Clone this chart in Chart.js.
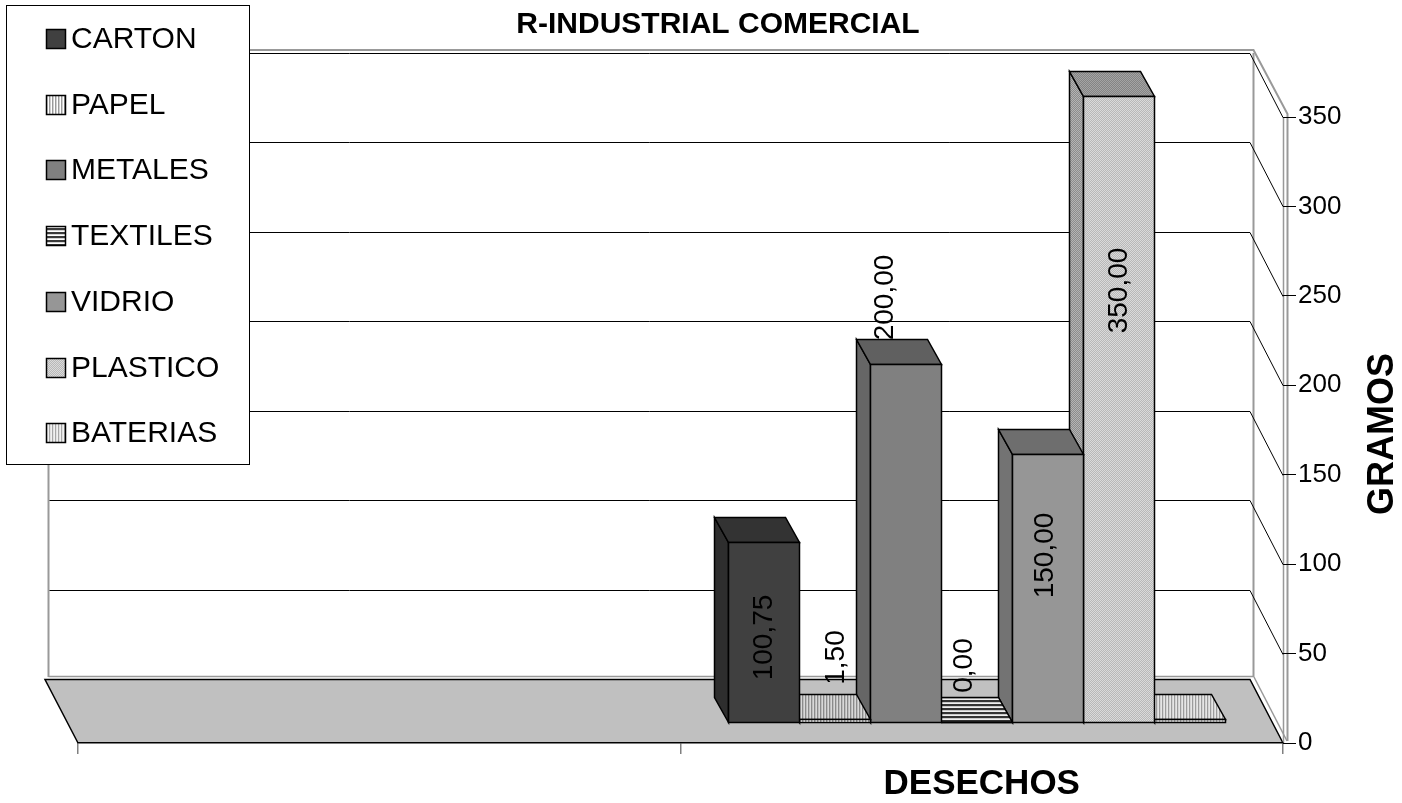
<!DOCTYPE html>
<html>
<head>
<meta charset="utf-8">
<script src="https://cdn.jsdelivr.net/npm/chart.js@4.4.0/dist/chart.umd.min.js"></script>
<style>
  html, body { margin: 0; padding: 0; background: #fff; }
  #wrap { width: 1402px; height: 803px; }
</style>
</head>
<body>
<div id="wrap"><canvas id="chart" width="1402" height="803"></canvas></div>
<script>
// data
const categories = ['', 'DESECHOS']
const seriesNames = ['CARTON', 'PAPEL', 'METALES', 'TEXTILES', 'VIDRIO', 'PLASTICO', 'BATERIAS']
const seriesValues = [100.75, 1.5, 200, 0, 150, 350, 1.5]
const valueLabels = ['100,75', '1,50', '200,00', '0,00', '150,00', '350,00', '']
const yTicks = [0, 50, 100, 150, 200, 250, 300, 350]

const FONT = "'Liberation Sans', Arial, sans-serif"
const depth = { dx: -33, dy: -64 }      // back wall offset
const barDepth = { dx: -14, dy: -25 }   // bar thickness
const barShift = { dx: -5, dy: -21 }    // bars stand in the middle of the floor

const canvas = document.getElementById('chart')
const ctx = canvas.getContext('2d')

function tile(w, h, paint) {
  const c = document.createElement('canvas')
  c.width = w; c.height = h
  paint(c.getContext('2d'))
  return ctx.createPattern(c, 'repeat')
}
function vstripe(cols) {
  return tile(cols.length, 1, g => cols.forEach((c, i) => { g.fillStyle = c; g.fillRect(i, 0, 1, 1) }))
}
function hstripe(cols) {
  return tile(1, cols.length, g => cols.forEach((c, i) => { g.fillStyle = c; g.fillRect(0, i, 1, 1) }))
}
function dots(a, b) {
  return tile(2, 2, g => {
    g.fillStyle = a; g.fillRect(0, 0, 2, 2)
    g.fillStyle = b; g.fillRect(1, 0, 1, 1); g.fillRect(0, 1, 1, 1)
  })
}

const faces = [
  { front: '#404040', top: '#333333', side: '#2e2e2e' },
  { front: vstripe(['#ffffff', '#9a9a9a', '#d0d0d0']), top: vstripe(['#d8d8d8', '#8a8a8a', '#bdbdbd']), side: vstripe(['#a0a0a0', '#707070']) },
  { front: '#808080', top: '#606060', side: '#666666' },
  { front: hstripe(['#3a3a3a', '#3a3a3a', '#d4d4d4', '#ffffff']), top: hstripe(['#333333', '#333333', '#c8c8c8', '#eeeeee']), side: hstripe(['#333333', '#999999']) },
  { front: '#969696', top: '#6e6e6e', side: '#737373' },
  { front: dots('#dadada', '#b8b8b8'), top: dots('#a4a4a4', '#848484'), side: dots('#b4b4b4', '#8c8c8c') },
  { front: vstripe(['#f2f2f2', '#a8a8a8', '#e2e2e2']), top: vstripe(['#e6e6e6', '#9c9c9c', '#d4d4d4']), side: vstripe(['#b0b0b0', '#808080']) },
]

// where each value label sits, relative to the top centre of the bar front
const labelShift = [[0, 95], [1, -62], [-21, -67], [-13, -57], [-3, 101], [0, 194], [0, 0]]

function poly(pts, fill, stroke) {
  ctx.beginPath()
  pts.forEach((p, i) => i ? ctx.lineTo(p[0], p[1]) : ctx.moveTo(p[0], p[1]))
  ctx.closePath()
  if (fill) { ctx.fillStyle = fill; ctx.fill() }
  if (stroke) { ctx.strokeStyle = stroke; ctx.stroke() }
}

function line(pts, color, width) {
  ctx.beginPath()
  pts.forEach((p, i) => i ? ctx.lineTo(p[0], p[1]) : ctx.moveTo(p[0], p[1]))
  ctx.strokeStyle = color; ctx.lineWidth = width || 1
  ctx.stroke()
}

const threeD = {
  id: 'threeD',
  beforeDraw(chart) {
    const a = chart.chartArea, y = chart.scales.y
    const L = a.left, R = a.right
    const B = y.getPixelForValue(0), T = y.getPixelForValue(yTicks[yTicks.length - 1])
    ctx.save()
    ctx.fillStyle = '#fff'
    ctx.fillRect(0, 0, chart.width, chart.height)
    // floor
    ctx.lineWidth = 1.5
    poly([[L + depth.dx, B + depth.dy], [R + depth.dx, B + depth.dy], [R, B], [L, B]], '#c0c0c0', null)
    line([[L, B], [L + depth.dx, B + depth.dy + 0.5], [R + depth.dx, B + depth.dy + 0.5], [R, B]], '#000', 1.5)
    line([[R + depth.dx + 4, B + depth.dy - 2], [R + 4, B - 2]], '#999', 1.5)
    // back wall + side wall
    const bl = L + depth.dx + 3.5, br = R + depth.dx + 3.5
    line([[bl, B + depth.dy - 2.5], [br, B + depth.dy - 2.5]], '#999', 1.5)
    line([[bl, B + depth.dy - 2], [bl, T + depth.dy - 3], [br, T + depth.dy - 3], [R + 4.5, T - 3], [R + 4.5, B - 2]], '#999', 2)
    line([[br, T + depth.dy], [br, B + depth.dy - 2]], '#999', 2)
    line([[R + 0.5, T], [R + 0.5, B]], '#999', 1.5)
    yTicks.forEach(v => {
      if (v === 0) return
      const yf = Math.round(y.getPixelForValue(v)) + 0.5
      const yb = yf + depth.dy
      line([[bl + 1, yb], [R + depth.dx, yb], [R, yf]], '#000', 1)
    })
    ctx.restore()
  },
  beforeDatasetDraw() {
    return false
  },
  afterDatasetsDraw(chart) {
    ctx.save()
    ctx.lineWidth = 1.5
    ctx.lineJoin = 'miter'
    const boxes = []
    for (let i = seriesNames.length - 1; i >= 0; i--) {
      const el = chart.getDatasetMeta(i).data[1]
      const x0 = Math.round(el.x - el.width / 2 + barShift.dx) + 0.5
      const x1 = Math.round(el.x + el.width / 2 + barShift.dx) + 0.5
      const yt = Math.round(el.y + barShift.dy) + 0.5
      const yb = Math.round(el.base + barShift.dy) + 0.5
      const f = faces[i], dx = barDepth.dx, dy = barDepth.dy
      poly([[x0, yt], [x0, yb], [x0 + dx, yb + dy], [x0 + dx, yt + dy]], f.side, '#000')
      poly([[x0, yt], [x1, yt], [x1 + dx, yt + dy], [x0 + dx, yt + dy]], f.top, '#000')
      poly([[x0, yt], [x1, yt], [x1, yb], [x0, yb]], f.front, '#000')
      boxes[i] = { cx: (x0 + x1) / 2, yt }
    }
    // value labels
    ctx.fillStyle = '#000'
    ctx.font = '28px ' + FONT
    ctx.textAlign = 'center'
    ctx.textBaseline = 'middle'
    valueLabels.forEach((t, i) => {
      if (!t) return
      ctx.save()
      ctx.translate(boxes[i].cx + labelShift[i][0], boxes[i].yt + labelShift[i][1])
      ctx.rotate(-Math.PI / 2)
      ctx.fillText(t, 0, 0)
      ctx.restore()
    })
    ctx.restore()
  },
  afterDraw(chart) {
    ctx.save()
    // title
    ctx.fillStyle = '#000'
    ctx.font = 'bold 30px ' + FONT
    ctx.textAlign = 'center'
    ctx.textBaseline = 'middle'
    ctx.fillText('R-INDUSTRIAL COMERCIAL', 718, 25)
    // y axis title
    ctx.save()
    ctx.translate(1383, 434)
    ctx.rotate(-Math.PI / 2)
    ctx.font = 'bold 36px ' + FONT
    ctx.fillText('GRAMOS', 0, 0)
    ctx.restore()
    // legend
    ctx.fillStyle = '#fff'
    ctx.fillRect(6.5, 5.5, 243, 459)
    ctx.strokeStyle = '#000'
    ctx.lineWidth = 1
    ctx.strokeRect(6.5, 5.5, 243, 459)
    ctx.textAlign = 'left'
    ctx.font = '30px ' + FONT
    seriesNames.forEach((name, i) => {
      const cy = Math.round(39 + i * 65.7)
      ctx.fillStyle = faces[i].front
      ctx.fillRect(46, cy - 10, 19, 19)
      ctx.lineWidth = 1.5
      ctx.strokeRect(46.5, cy - 9.5, 19, 19)
      ctx.fillStyle = '#000'
      ctx.fillText(name, 71, cy + 1)
    })
    ctx.restore()
  }
}

new Chart(ctx, {
  type: 'bar',
  data: {
    labels: categories,
    datasets: seriesNames.map((name, i) => ({
      label: name,
      data: [null, seriesValues[i]],
      backgroundColor: '#808080',
      categoryPercentage: 0.825,
      barPercentage: 1.0,
    })),
  },
  options: {
    responsive: false,
    animation: false,
    devicePixelRatio: 1,
    layout: { padding: { left: 78, top: 117, right: 0, bottom: 0 } },
    plugins: {
      legend: { display: false },
      title: { display: false },
      tooltip: { enabled: false },
    },
    scales: {
      x: {
        grid: { display: true, drawOnChartArea: false, drawTicks: true, tickLength: 11, color: '#808080', lineWidth: 1.5 },
        border: { display: true, color: '#000', width: 1.5 },
        ticks: { color: '#000', font: { family: FONT, size: 35, weight: 'bold' }, padding: 9, maxRotation: 0 },
        afterFit(s) { s.height = 60 },
      },
      y: {
        position: 'right',
        min: 0,
        max: 350,
        grid: { display: true, drawOnChartArea: false, drawTicks: true, tickLength: 13, color: '#000', lineWidth: 1 },
        border: { display: false },
        ticks: { color: '#000', font: { family: FONT, size: 26 }, padding: 2 },
        afterBuildTicks(s) { s.ticks = yTicks.map(v => ({ value: v })) },
        afterFit(s) { s.width = 119 },
      },
    },
  },
  plugins: [threeD],
})
</script>
</body>
</html>
